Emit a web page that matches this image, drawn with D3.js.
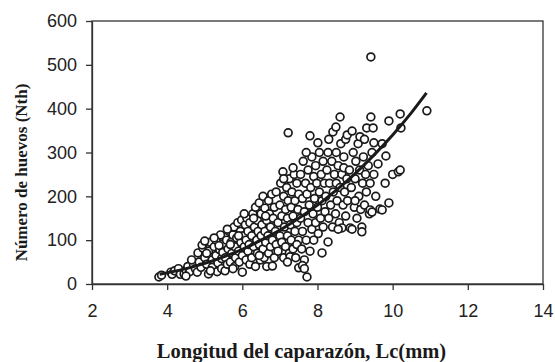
<!DOCTYPE html>
<html>
<head>
<meta charset="utf-8">
<script src="https://cdn.jsdelivr.net/npm/d3@7"></script>
<style>
  body { margin: 0; background: #fff; }
</style>
</head>
<body>
<div id="chart"></div>
<script>
// carapace length (mm) vs egg count
const points = [
  [3.78,16],[3.85,20],[4.1,27],[4.13,22],[4.2,30],
  [4.3,35],[4.35,22],[4.45,23],[4.5,32],[4.55,40],[4.6,28],[4.7,45],[4.75,35],[4.8,27],[4.82,71],[4.85,50],[4.9,38],[4.5,18],[4.65,55],
  [4.95,82],[4.93,89],[5.0,60],[5.05,45],[5.1,23],[5.1,75],[5.15,95],[5.2,55],[5.2,38],[5.25,85],[5.3,65],[5.3,100],[5.33,28],[5.35,48],
  [5.4,78],[5.42,112],[5.45,58],[5.45,35],[5.5,92],[5.05,70],[5.15,30],[5.25,105],[5.38,88],[5.48,72],[5.0,98],
  [5.54,30],[5.55,60],[5.58,100],[5.6,45],[5.62,80],[5.65,120],[5.68,50],[5.7,95],[5.72,70],[5.75,112],[5.78,130],[5.8,40],[5.8,85],
  [5.82,60],[5.85,105],[5.88,140],[5.9,75],[5.92,50],[5.95,120],[5.96,95],[5.98,146],[6.0,27],[6.0,65],[6.02,110],[6.05,85],[6.08,135],
  [6.1,55],[6.1,100],[6.12,150],[6.15,75],[6.15,120],[6.18,90],[6.2,45],[6.2,140],[5.6,125],[5.75,35],[5.9,110],[6.05,160],[5.68,90],
  [6.25,60],[6.25,110],[6.28,160],[6.3,85],[6.32,130],[6.35,40],[6.35,175],[6.38,100],[6.4,70],[6.4,145],[6.42,120],[6.45,90],[6.45,185],
  [6.48,55],[6.5,160],[6.5,110],[6.52,135],[6.55,80],[6.55,200],[6.58,60],[6.6,173],[6.6,120],[6.62,95],[6.65,145],[6.65,40],[6.68,110],
  [6.7,190],[6.7,70],[6.72,160],[6.75,130],[6.75,85],[6.78,205],[6.8,100],[6.8,41],[6.82,150],[6.85,175],[6.85,60],[6.88,120],[6.9,210],
  [6.9,90],[6.3,150],[6.45,65],[6.62,155],
  [6.95,140],[6.95,75],[7.0,180],[7.0,110],[7.02,230],[7.05,95],[7.05,155],[7.08,256],[7.1,60],[7.1,200],[7.12,130],[7.15,170],[7.15,85],
  [7.18,220],[7.2,110],[7.2,150],[7.22,345],[7.22,190],[7.25,70],[7.25,240],[7.27,62],[7.28,135],[7.3,175],[7.3,100],[7.32,210],[7.35,155],
  [7.35,80],[7.38,250],[7.4,120],[7.4,190],[7.42,60],[7.45,230],[7.45,140],[7.48,170],[7.5,37],[7.5,100],[7.5,205],[7.1,240],[7.35,265],
  [7.2,50],[7.45,90],
  [7.55,150],[7.55,250],[7.58,80],[7.6,195],[7.6,120],[7.62,280],[7.65,55],[7.65,165],[7.68,230],[7.7,100],[7.72,16],[7.72,205],[7.75,140],
  [7.75,260],[7.78,180],[7.8,338],[7.8,75],[7.82,220],[7.85,125],[7.85,290],[7.88,160],[7.9,245],[7.9,100],[7.92,195],[7.95,270],[7.95,140],
  [7.98,230],[8.0,175],[8.01,322],[8.02,115],[8.05,210],[8.05,300],[8.08,150],[8.1,250],[8.12,71],[8.12,190],[8.15,280],[8.15,130],[8.18,230],
  [8.2,165],[7.6,42],[7.7,300],[7.65,35],
  [8.22,200],[8.25,260],[8.28,96],[8.28,300],[8.3,150],[8.32,230],[8.35,180],[8.38,280],[8.4,130],[8.41,347],[8.42,210],[8.45,250],[8.48,160],
  [8.49,358],[8.5,300],[8.5,230],[8.52,190],[8.55,270],[8.58,140],[8.6,381],[8.6,220],[8.62,320],[8.65,128],[8.65,250],[8.68,180],[8.7,290],
  [8.72,210],[8.75,155],[8.75,330],[8.78,240],[8.79,340],[8.8,190],[8.3,330],[8.55,125],[8.7,265],
  [8.85,260],[8.87,128],[8.9,220],[8.92,349],[8.92,125],[8.95,300],[8.98,175],[9.0,240],[9.02,280],[9.05,150],[9.08,320],[9.1,200],[9.12,260],
  [9.13,336],[9.15,170],[9.18,130],[9.18,119],[9.2,230],[9.22,290],[9.25,180],[9.28,250],[9.3,210],[9.31,356],[9.35,270],[9.38,160],[9.4,169],
  [9.4,230],[9.42,381],[9.42,518],[9.45,164],[9.45,300],[9.48,356],[9.5,322],[9.5,250],[9.0,190],[9.25,330],
  [9.55,200],[9.61,274],[9.66,171],[9.72,169],[9.72,320],[9.8,230],[9.82,292],[9.9,185],[9.9,372],[10.0,250],[10.15,256],[10.2,260],
  [10.2,388],[10.22,356],[10.91,395]
];

// fitted curve, read at several lengths
const curveLc = [3.8, 4.5, 5, 5.5, 6, 6.5, 7, 7.5, 8, 8.5, 9, 9.5, 10, 10.5, 10.9];
const curveNth = [22, 35, 47, 62, 79, 100, 123, 150, 180, 214, 252, 294, 340, 391, 436];

const xTicks = [2, 4, 6, 8, 10, 12, 14];
const yTicks = [0, 100, 200, 300, 400, 500, 600];

const margin = { top: 21, right: 12, bottom: 78, left: 92 };
const width = 555 - margin.left - margin.right;
const height = 362 - margin.top - margin.bottom;
const axisColor = '#333';

const svg = d3.select('#chart')
  .append('svg')
  .attr('width', 555)
  .attr('height', 362)
  .append('g')
  .attr('transform', 'translate(' + margin.left + ',' + margin.top + ')');

const x = d3.scaleLinear().domain([2, 14]).range([0, width]);
const y = d3.scaleLinear().domain([0, 600]).range([height, 0]);

// frame
svg.append('rect')
  .attr('width', width)
  .attr('height', height)
  .attr('fill', 'none')
  .attr('stroke', axisColor)
  .attr('stroke-width', 1.3);

svg.append('g')
  .attr('class', 'axis')
  .attr('transform', 'translate(0,' + height + ')')
  .call(d3.axisBottom(x).tickValues(xTicks).tickSize(6).tickSizeOuter(0).tickPadding(14))
  .call(g => g.selectAll('text').attr('font-size', 18));

svg.append('g')
  .attr('class', 'axis')
  .call(d3.axisLeft(y).tickValues(yTicks).tickSize(6).tickSizeOuter(0).tickPadding(9))
  .call(g => g.selectAll('text').attr('font-size', 18));

d3.selectAll('.axis')
  .attr('font-family', '"Liberation Sans", Arial, sans-serif');
d3.selectAll('.axis path, .axis line')
  .style('stroke', axisColor)
  .style('stroke-width', 1.3);
d3.selectAll('.axis text')
  .style('fill', '#222');

// points
svg.append('g')
  .selectAll('circle')
  .data(points)
  .join('circle')
  .attr('cx', d => x(d[0]))
  .attr('cy', d => y(d[1]))
  .attr('r', 3.9)
  .attr('fill', '#fff')
  .attr('stroke', '#1a1a1a')
  .attr('stroke-width', 1.7);

// curve
svg.append('path')
  .datum(curveLc.map((v, i) => [v, curveNth[i]]))
  .attr('fill', 'none')
  .attr('stroke', '#1a1a1a')
  .attr('stroke-width', 3)
  .attr('d', d3.line().curve(d3.curveMonotoneX).x(d => x(d[0])).y(d => y(d[1])));

// titles
svg.append('text')
  .attr('x', width / 2 - 16)
  .attr('y', height + 74)
  .attr('text-anchor', 'middle')
  .attr('font-family', '"Liberation Serif", "Times New Roman", serif')
  .attr('font-weight', 'bold')
  .attr('font-size', 20.5)
  .attr('fill', '#1a1a1a')
  .text('Longitud del caparazón, Lc(mm)');

svg.append('text')
  .attr('transform', 'translate(' + (-65) + ',' + (height / 2 + 20) + ') rotate(-90)')
  .attr('text-anchor', 'middle')
  .attr('font-family', '"Liberation Serif", "Times New Roman", serif')
  .attr('font-weight', 'bold')
  .attr('font-size', 17)
  .attr('fill', '#1a1a1a')
  .text('Número de huevos (Nth)');
</script>
</body>
</html>
